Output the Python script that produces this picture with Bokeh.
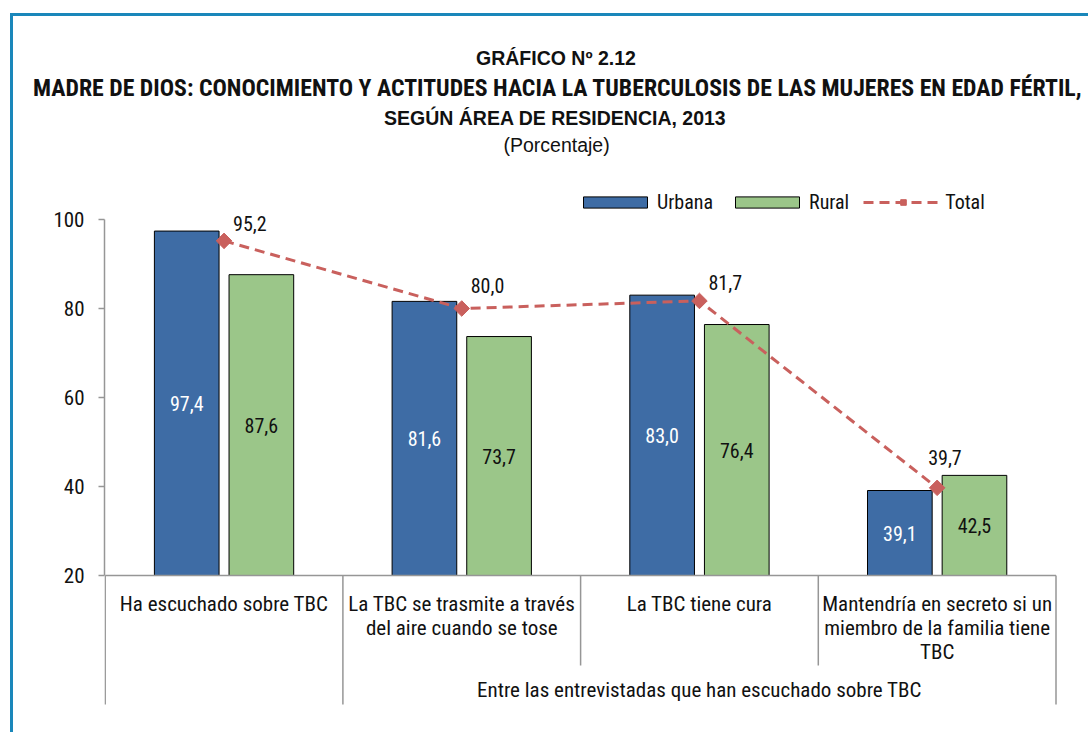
from bokeh.plotting import figure
from bokeh.models import FixedTicker, Legend, LegendItem, Title
from bokeh.core.properties import value
from bokeh.embed import file_html
from bokeh.resources import INLINE

# ---------------- data ----------------
categories = [
    "Ha escuchado sobre TBC",
    "La TBC se trasmite a través\ndel aire cuando se tose",
    "La TBC tiene cura",
    "Mantendría en secreto si un\nmiembro de la familia tiene\nTBC",
]
group_label = "Entre las entrevistadas que han escuchado sobre TBC"
urbana = [97.4, 81.6, 83.0, 39.1]
rural = [87.6, 73.7, 76.4, 42.5]
total = [95.2, 80.0, 81.7, 39.7]
y_ticks = [20, 40, 60, 80, 100]
title_1 = "GRÁFICO Nº 2.12"
title_2 = "MADRE DE DIOS: CONOCIMIENTO Y ACTITUDES HACIA LA TUBERCULOSIS DE LAS MUJERES EN EDAD FÉRTIL,"
title_3 = "SEGÚN ÁREA DE RESIDENCIA, 2013"
subtitle = "(Porcentaje)"

# ---------------- styles ----------------
FONT = "Roboto Condensed"
TFONT = "Liberation Sans"
BLUE = "#3e6ca5"
GREEN = "#9bc689"
RED = "#c9605d"
GRID = "#969696"
TXT = "#111111"
BORDER = "#1a87ba"

W, H = 1088, 732
ML, MR, MT, MB = 104, 28, 157, 16
PX = 237.7          # pixels per category
PY = 4.45           # pixels per percentage point
fw, fh = W - ML - MR, H - MT - MB
x0 = 0.5 - 0.7 / PX
x1 = x0 + fw / PX
y1 = 100 + (219 - MT) / PY
y0 = y1 - fh / PY

def yd(page_y):
    return 100 - (page_y - 219) / PY

idx = list(range(1, len(categories) + 1))
off = 0.157
bw = 0.272

p = figure(width=W, height=H, x_range=(x0, x1), y_range=(y0, y1),
           output_backend="svg", toolbar_location=None, x_axis_location=None,
           min_border_left=ML, min_border_right=MR, min_border_top=MT, min_border_bottom=MB)
p.outline_line_color = None
p.grid.visible = False
p.background_fill_color = "white"
p.border_fill_color = None
p.styles = {"box-shadow": f"inset 10px 13px 0 0 white, inset 13px 16px 0 0 {BORDER}"}

# y axis
ya = p.yaxis[0]
ya.bounds = (20, 100)
ya.ticker = FixedTicker(ticks=y_ticks)
ya.minor_tick_line_color = None
ya.major_tick_in = 0
ya.major_tick_out = 6
ya.axis_line_color = GRID
ya.axis_line_width = 1.5
ya.major_tick_line_color = GRID
ya.major_tick_line_width = 1.5
ya.major_label_text_font = FONT
ya.major_label_text_font_size = "21px"
ya.major_label_text_color = TXT
ya.major_label_standoff = 14

# bars
bu = p.vbar(x=[i - off for i in idx], top=urbana, bottom=20, width=bw,
            fill_color=BLUE, line_color="black", line_width=1)
br = p.vbar(x=[i + off for i in idx], top=rural, bottom=20, width=bw,
            fill_color=GREEN, line_color="black", line_width=1)

# total line
ln = p.line(idx, total, line_color=RED, line_width=3, line_dash="10 6")
mk = p.scatter(idx, total, marker="square", angle=0.785398, size=11,
               fill_color=RED, line_color=RED)

fmt = lambda v: f"{v:.1f}".replace(".", ",")

# bar labels
p.text(x=[i - off for i in idx], y=[(20 + v) / 2 for v in urbana], text=[fmt(v) for v in urbana],
       text_font=value(FONT), text_font_size="20px", text_color="white",
       text_align="center", text_baseline="middle")
p.text(x=[i + off for i in idx], y=[(20 + v) / 2 for v in rural], text=[fmt(v) for v in rural],
       text_font=value(FONT), text_font_size="20px", text_color=TXT,
       text_align="center", text_baseline="middle")

# total labels
lab_dx = [9, 9, 9, -9]
lab_dy = [-17, -23, -18, -30]
p.text(x=idx, y=total, text=[fmt(v) for v in total], x_offset=lab_dx, y_offset=lab_dy,
       text_font=value(FONT), text_font_size="20px", text_color=TXT,
       text_align="left", text_baseline="middle")

# category axis
p.segment(x0=[0.5], y0=[20], x1=[len(idx) + 0.5], y1=[20], line_color=GRID, line_width=1.5)
inner_b = [2.5, 3.5]
outer_b = [0.5, 1.5, len(idx) + 0.5]
p.segment(x0=inner_b, y0=[20] * len(inner_b), x1=inner_b, y1=[yd(665)] * len(inner_b),
          line_color=GRID, line_width=1.5)
p.segment(x0=outer_b, y0=[20] * len(outer_b), x1=outer_b, y1=[yd(704)] * len(outer_b),
          line_color=GRID, line_width=1.5)
p.text(x=idx, y=[yd(591)] * len(idx), text=categories,
       text_font=value(FONT), text_font_size="21px", text_color=TXT,
       text_align="center", text_baseline="top", text_line_height=1.0)
p.text(x=[(1.5 + len(idx) + 0.5) / 2], y=[yd(689)], text=[group_label],
       text_font=value(FONT), text_font_size="21px", text_color=TXT,
       text_align="center", text_baseline="middle")

# legend
leg = Legend(items=[LegendItem(label="Urbana", renderers=[bu]),
                    LegendItem(label="Rural", renderers=[br]),
                    LegendItem(label="Total", renderers=[ln, mk])],
             orientation="horizontal", location=(471, 502),
             glyph_width=80, glyph_height=14, label_standoff=2, spacing=14,
             label_text_font=FONT, label_text_font_size="20px", label_text_color=TXT,
             padding=0, margin=0, border_line_alpha=0, background_fill_alpha=0)
p.add_layout(leg)

# title (first added = closest to the plot); left-aligned, shifted so that
# each line is centred on x = 555 px
CENTER = 555.5
for text, font, size, style, width in [(subtitle, TFONT, "19.5px", "normal", 105),
                                       (title_3, TFONT, "19.5px", "bold", 344),
                                       (title_2, FONT, "23.8px", "bold", 1046),
                                       (title_1, TFONT, "19.5px", "bold", 160)]:
    p.add_layout(Title(text=text, align="left", offset=CENTER - width / 2 - ML, standoff=3,
                       text_font=font, text_font_size=size, text_font_style=style,
                       text_color=TXT), "above")

open("out.html", "w").write(file_html(p, INLINE))
